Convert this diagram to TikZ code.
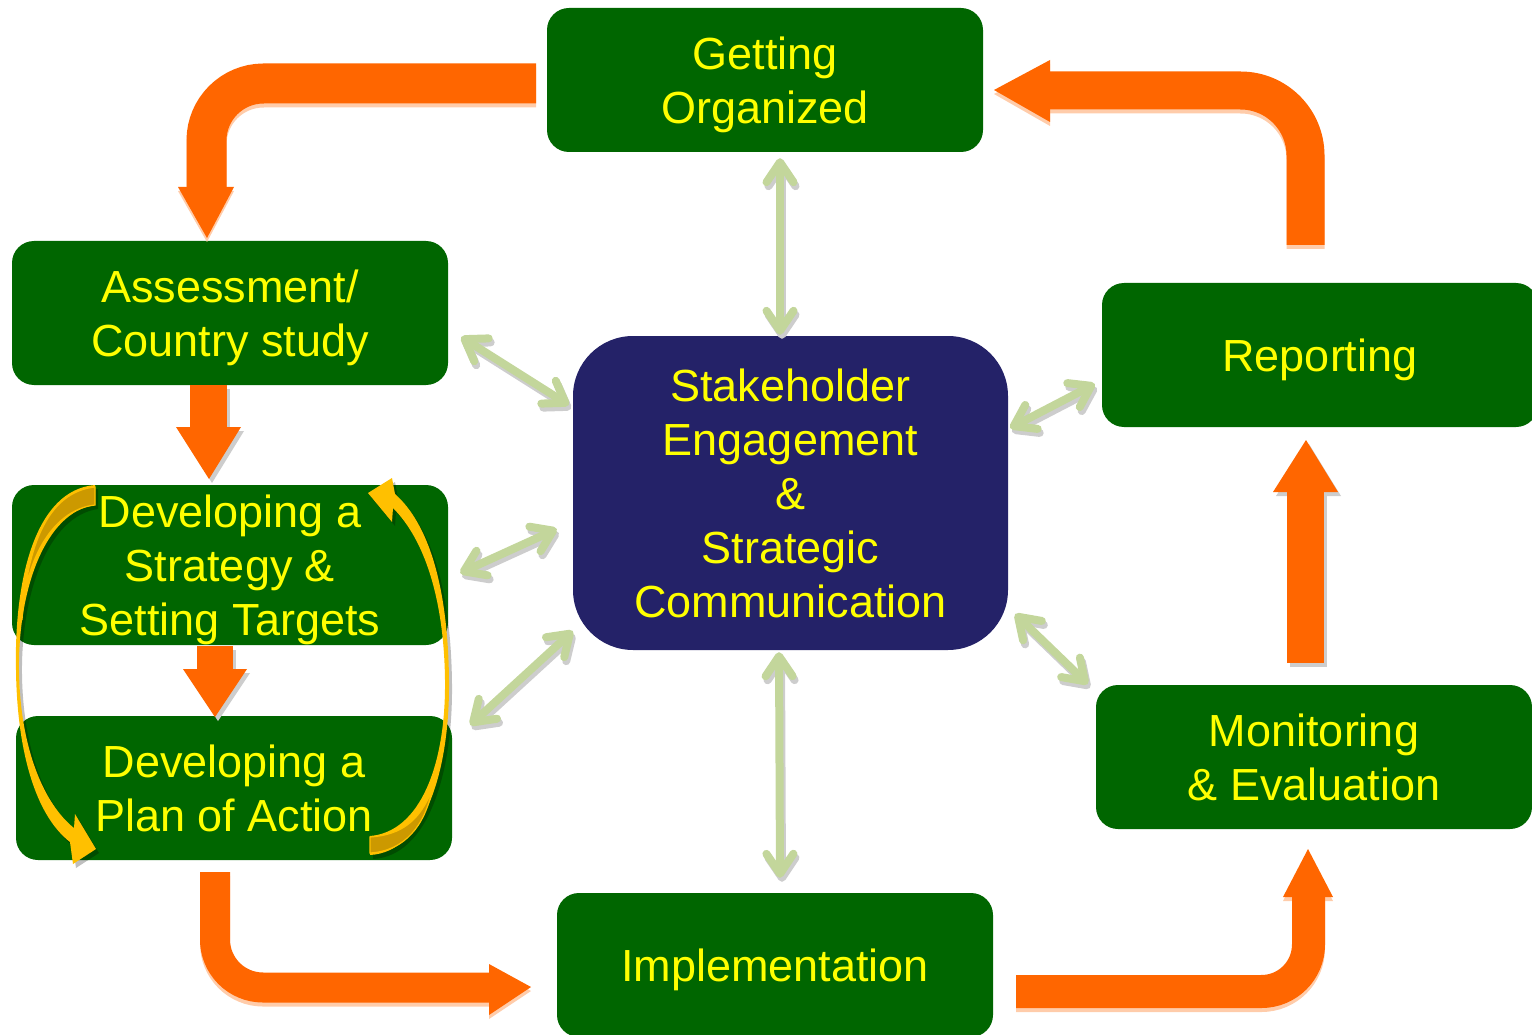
\documentclass[tikz,border=0pt]{standalone}
\usepackage{fontspec}
\setmainfont{Liberation Sans}
\usetikzlibrary{arrows.meta,calc}
\definecolor{boxgreen}{RGB}{0,102,0}
\definecolor{navybox}{RGB}{36,34,104}
\definecolor{txtyellow}{RGB}{255,255,0}
\definecolor{orangeA}{RGB}{255,102,0}
\definecolor{orangeS}{RGB}{255,204,170}
\definecolor{shadowgray}{RGB}{205,205,205}
\definecolor{lgreen}{RGB}{195,214,155}
\definecolor{goldA}{RGB}{255,192,0}
\definecolor{goldD}{RGB}{204,153,0}
\begin{document}
\begin{tikzpicture}[x=1pt,y=-1pt,
  box/.style={fill=boxgreen, rounded corners=22pt, minimum width=436pt,
    minimum height=144pt, inner sep=0pt, text=txtyellow, align=center,
    font=\fontsize{45}{54}\selectfont, text depth=0pt},
  garrow/.style={draw=lgreen, line width=8pt,
    {Straight Barb[length=20pt,width=27pt,round]}-{Straight Barb[length=20pt,width=27pt,round]}},
  gshadow/.style={garrow, draw=shadowgray, transform canvas={shift={(2pt,-4pt)}}},
  oshadow/.style={transform canvas={shift={(0pt,-4pt)}}},
  grshadow/.style={transform canvas={shift={(3pt,-4pt)}}},
]
\useasboundingbox (0,0) rectangle (1532,1035);

% ---------- boxes ----------
\node[box] (go) at (765,80) {Getting\\Organized};
\node[box] (as) at (230,313) {Assessment/\\Country study};
\node[box, minimum height=160pt] (st) at (230,565) {Developing a\\Strategy \&\\Setting Targets};
\node[box] (pl) at (234,788) {Developing a\\Plan of Action};
\node[box] (im) at (775,965) {Implementation};
\node[box] (mo) at (1314,757) {Monitoring\\\& Evaluation};
\node[box] (re) at (1320,355) {Reporting};
\node[box, fill=navybox, minimum width=435pt, minimum height=314pt,
      rounded corners=60pt] (ce) at (790.5,493)
  {Stakeholder\\Engagement\\\&\\Strategic\\Communication};

% ---------- orange block arrows ----------
% Getting Organized -> Assessment
\begin{scope}[oshadow]
\draw[orangeS, line width=40pt, rounded corners=57pt] (536,83.5) -- (206.5,83.5) -- (206.5,188);
\fill[orangeS] (178,187) -- (234,187) -- (207,238) -- cycle;
\end{scope}
\draw[orangeA, line width=40pt, rounded corners=57pt] (536,83.5) -- (206.5,83.5) -- (206.5,188);
\fill[orangeA] (178,187) -- (234,187) -- (207,238) -- cycle;

% Reporting -> Getting Organized
\begin{scope}[oshadow]
\draw[orangeS, line width=38pt, rounded corners=65pt] (1305.5,245) -- (1305.5,90.5) -- (1049,90.5);
\fill[orangeS] (1050,60) -- (1050,122) -- (994,90) -- cycle;
\end{scope}
\draw[orangeA, line width=38pt, rounded corners=65pt] (1305.5,245) -- (1305.5,90.5) -- (1049,90.5);
\fill[orangeA] (1050,60) -- (1050,122) -- (994,90) -- cycle;

% Monitoring -> Reporting
\begin{scope}[grshadow]
\draw[shadowgray, line width=37pt] (1305.5,663) -- (1305.5,491);
\fill[shadowgray] (1273,492) -- (1338,492) -- (1306,440) -- cycle;
\end{scope}
\draw[orangeA, line width=37pt] (1305.5,663) -- (1305.5,491);
\fill[orangeA] (1273,492) -- (1338,492) -- (1306,440) -- cycle;

% Plan of Action -> Implementation
\begin{scope}[oshadow]
\draw[orangeS, line width=30pt, rounded corners=48pt] (215,872) -- (215,987.5) -- (490,987.5);
\fill[orangeS] (489,964) -- (489,1015) -- (531,987) -- cycle;
\end{scope}
\draw[orangeA, line width=30pt, rounded corners=48pt] (215,872) -- (215,987.5) -- (490,987.5);
\fill[orangeA] (489,964) -- (489,1015) -- (531,987) -- cycle;

% Implementation -> Monitoring
\begin{scope}[oshadow]
\draw[orangeS, line width=33pt, rounded corners=47pt] (1016,991.5) -- (1308.5,991.5) -- (1308.5,896);
\fill[orangeS] (1283,897) -- (1333,897) -- (1308,849) -- cycle;
\end{scope}
\draw[orangeA, line width=33pt, rounded corners=47pt] (1016,991.5) -- (1308.5,991.5) -- (1308.5,896);
\fill[orangeA] (1283,897) -- (1333,897) -- (1308,849) -- cycle;

% Assessment -> Strategy
\begin{scope}[grshadow]
\draw[shadowgray, line width=37pt] (208.5,385) -- (208.5,428);
\fill[shadowgray] (176,427) -- (241,427) -- (209,479) -- cycle;
\end{scope}
\draw[orangeA, line width=37pt] (208.5,385) -- (208.5,428);
\fill[orangeA] (176,427) -- (241,427) -- (209,479) -- cycle;

% Strategy -> Plan
\begin{scope}[grshadow]
\draw[shadowgray, line width=36pt] (215,646) -- (215,670);
\fill[shadowgray] (183,669) -- (247,669) -- (215,717) -- cycle;
\end{scope}
\draw[orangeA, line width=36pt] (215,646) -- (215,670);
\fill[orangeA] (183,669) -- (247,669) -- (215,717) -- cycle;

% ---------- light green double arrows ----------
\foreach \sty in {gshadow, garrow} {
  \draw[\sty] ($(go.south)+(15,6)$) -- ($(ce.north)+(-10.5,-1)$);
  \draw[\sty] ($(ce.south)+(-11.5,2)$) -- ($(im.north)+(5,-15)$);
  \draw[\sty] ($(as.east)+(13,24)$) -- ($(ce.west)+(-4,-88)$);
  \draw[\sty] ($(st.east)+(12,8)$) -- ($(ce.west)+(-16,36)$);
  \draw[\sty] ($(pl.east)+(18,-63)$) -- ($(ce.west)+(0,138)$);
  \draw[\sty] ($(ce.east)+(2,-65)$) -- ($(re.west)+(-7,29)$);
  \draw[\sty] ($(ce.east)+(7,121)$) -- ($(mo.west)+(-8,-73)$);
}

% ---------- yellow curved arrows ----------
% left: Strategy -> Plan
\fill[black, opacity=0.25, transform canvas={shift={(3pt,-4pt)}}]
  (95,485) .. controls (35,490) and (14,580) .. (16,670)
  .. controls (17,750) and (35,815) .. (70,842)
  -- (73,864) -- (96,849) -- (75,814) -- (74,828)
  .. controls (45,805) and (20,750) .. (19,670)
  .. controls (18,590) and (45,512) .. (95,505) -- cycle;
\fill[goldA]
  (95,485) .. controls (35,490) and (14,580) .. (16,670)
  .. controls (17,750) and (35,815) .. (70,842)
  -- (73,864) -- (96,849) -- (75,814) -- (74,828)
  .. controls (45,805) and (20,750) .. (19,670)
  .. controls (18,590) and (45,512) .. (95,505) -- cycle;
\filldraw[fill=goldD, draw=goldA, line width=1.2pt]
  (95,487) .. controls (48,492) and (27,545) .. (22,620)
  .. controls (24,565) and (50,510) .. (95,505) -- cycle;

% right: Plan -> Strategy
\fill[black, opacity=0.25, transform canvas={shift={(3pt,-4pt)}}]
  (370,855) .. controls (425,852) and (450,770) .. (449,680)
  .. controls (448,590) and (430,525) .. (395,494)
  -- (392,478) -- (368,493) -- (392,522) -- (393,508)
  .. controls (425,540) and (444,600) .. (445,680)
  .. controls (446,765) and (420,832) .. (370,836) -- cycle;
\fill[goldA]
  (370,855) .. controls (425,852) and (450,770) .. (449,680)
  .. controls (448,590) and (430,525) .. (395,494)
  -- (392,478) -- (368,493) -- (392,522) -- (393,508)
  .. controls (425,540) and (444,600) .. (445,680)
  .. controls (446,765) and (420,832) .. (370,836) -- cycle;
\filldraw[fill=goldD, draw=goldA, line width=1.2pt]
  (370,853) .. controls (405,851) and (425,825) .. (432,790)
  .. controls (420,820) and (402,835) .. (370,837) -- cycle;
\end{tikzpicture}
\end{document}
